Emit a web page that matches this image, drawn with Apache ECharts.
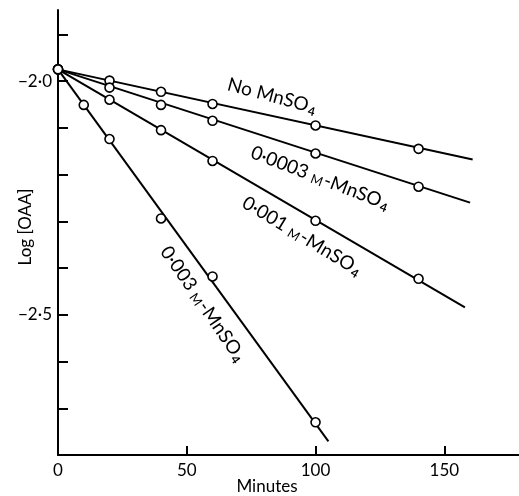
<!DOCTYPE html>
<html>
<head>
<meta charset="utf-8">
<script src="https://cdn.jsdelivr.net/npm/echarts@6/dist/echarts.min.js"></script>
<style>
  html, body { margin: 0; padding: 0; background: #fff; }
  #chart { width: 519px; height: 496px; }
</style>
</head>
<body>
<div id="chart"></div>
<script>
// ---- data ----
const timesA = [0, 20, 40, 60, 100, 140];
const timesB = [0, 10, 20, 40, 60, 100];
const noMnSO4 = [-1.975, -1.999, -2.023, -2.049, -2.095, -2.145];
const mn0003 = [-1.975, -2.014, -2.051, -2.085, -2.155, -2.226];
const mn001 = [-1.975, -2.040, -2.105, -2.171, -2.299, -2.423];
const mn003 = [-1.975, -2.051, -2.124, -2.294, -2.418, -2.730];
// fitted straight lines: start and end (minutes, log value)
const fitStartTime = 0;
const fitStartValue = -1.975;
const fitEndTimes = [161, 160, 158, 105];
const fitEndValues = [-2.168, -2.260, -2.484, -2.771];
const seriesNames = ['No MnSO4', '0·0003 M-MnSO4', '0·001 M-MnSO4', '0·003 M-MnSO4'];
const xTicks = [0, 50, 100, 150];
const yTicks = [-2.7, -2.6, -2.5, -2.4, -2.3, -2.2, -2.1, -2.0, -1.9];
const yLabelValues = [-2.5, -2.0];
const yLabelTexts = ['−2·5', '−2·0'];
const xAxisTitle = 'Minutes';
const yAxisTitle = 'Log [OAA]';

const FONT = 'Lato, "DejaVu Sans", sans-serif';
const groups = [
  { name: seriesNames[0], t: timesA, v: noMnSO4 },
  { name: seriesNames[1], t: timesA, v: mn0003 },
  { name: seriesNames[2], t: timesA, v: mn001 },
  { name: seriesNames[3], t: timesB, v: mn003 }
];

const series = [];
groups.forEach((g, i) => {
  series.push({
    name: g.name + ' fit',
    type: 'line',
    data: [[fitStartTime, fitStartValue], [fitEndTimes[i], fitEndValues[i]]],
    symbol: 'none',
    lineStyle: { color: '#000', width: 2 },
    z: 2,
    silent: true
  });
  series.push({
    name: g.name,
    type: 'scatter',
    data: g.t.map((t, k) => [t, g.v[k]]),
    symbol: 'circle',
    symbolSize: 9,
    itemStyle: { color: '#fff', borderColor: '#000', borderWidth: 1.6, opacity: 1 },
    z: 5
  });
});

const rich = {
  t: { fontFamily: FONT, fontSize: 19, color: '#000', lineHeight: 22, verticalAlign: 'middle' },
  m: { fontFamily: FONT, fontSize: 13, color: '#000', lineHeight: 22, verticalAlign: 'middle', padding: [7, 1, 0, 0] },
  s: { fontFamily: FONT, fontSize: 12, fontWeight: 'bold', color: '#000', lineHeight: 22, verticalAlign: 'middle', padding: [10, 0, 0, 1] }
};
function richLabel(name) {
  if (name.startsWith('No')) return '{t|No MnSO}{s|4}';
  const parts = name.split(' ');
  return '{t|' + parts[0] + ' }{m|M}{t|-MnSO}{s|4}';
}
const labelPlacements = [
  { x: 272, y: 96, deg: 15 },
  { x: 320, y: 178, deg: 21 },
  { x: 302, y: 236, deg: 31 },
  { x: 203, y: 304, deg: 55.5 }
];
const graphic = groups.map((g, i) => ({
  type: 'text',
  x: labelPlacements[i].x,
  y: labelPlacements[i].y,
  rotation: -labelPlacements[i].deg * Math.PI / 180,
  style: { text: richLabel(g.name), rich: rich, align: 'center', verticalAlign: 'middle' },
  z: 10
}));
graphic.push({
  type: 'text', x: 267, y: 487,
  style: { text: xAxisTitle, fontFamily: FONT, fontSize: 17, fill: '#000', align: 'center', verticalAlign: 'middle' }
});
graphic.push({
  type: 'text', x: 26, y: 227, rotation: Math.PI / 2,
  style: { text: yAxisTitle, fontFamily: FONT, fontSize: 17, fill: '#000', align: 'center', verticalAlign: 'middle' }
});

const chart = echarts.init(document.getElementById('chart'), null, { renderer: 'canvas' });
chart.setOption({
  animation: false,
  backgroundColor: '#fff',
  grid: { left: 58, top: 10, right: 0, bottom: 41, containLabel: false, outerBoundsMode: 'none' },
  xAxis: {
    type: 'value',
    min: 0,
    max: 179,
    axisLine: { show: true, lineStyle: { color: '#000', width: 2 } },
    axisTick: { show: true, inside: true, length: 9, customValues: xTicks, lineStyle: { color: '#000', width: 2 } },
    axisLabel: { show: true, customValues: xTicks, margin: 7, fontFamily: FONT, fontSize: 17, color: '#000' },
    splitLine: { show: false }
  },
  yAxis: {
    type: 'value',
    min: -2.8,
    max: -1.848,
    axisLine: { show: true, lineStyle: { color: '#000', width: 2 } },
    axisTick: { show: true, inside: true, length: 10, customValues: yTicks, lineStyle: { color: '#000', width: 2 } },
    axisLabel: {
      show: true, customValues: yLabelValues, margin: 6, fontFamily: FONT, fontSize: 17, color: '#000',
      formatter: v => yLabelTexts[yLabelValues.findIndex(u => Math.abs(u - v) < 1e-6)] || ''
    },
    splitLine: { show: false }
  },
  graphic: graphic,
  series: series
});
</script>
</body>
</html>
